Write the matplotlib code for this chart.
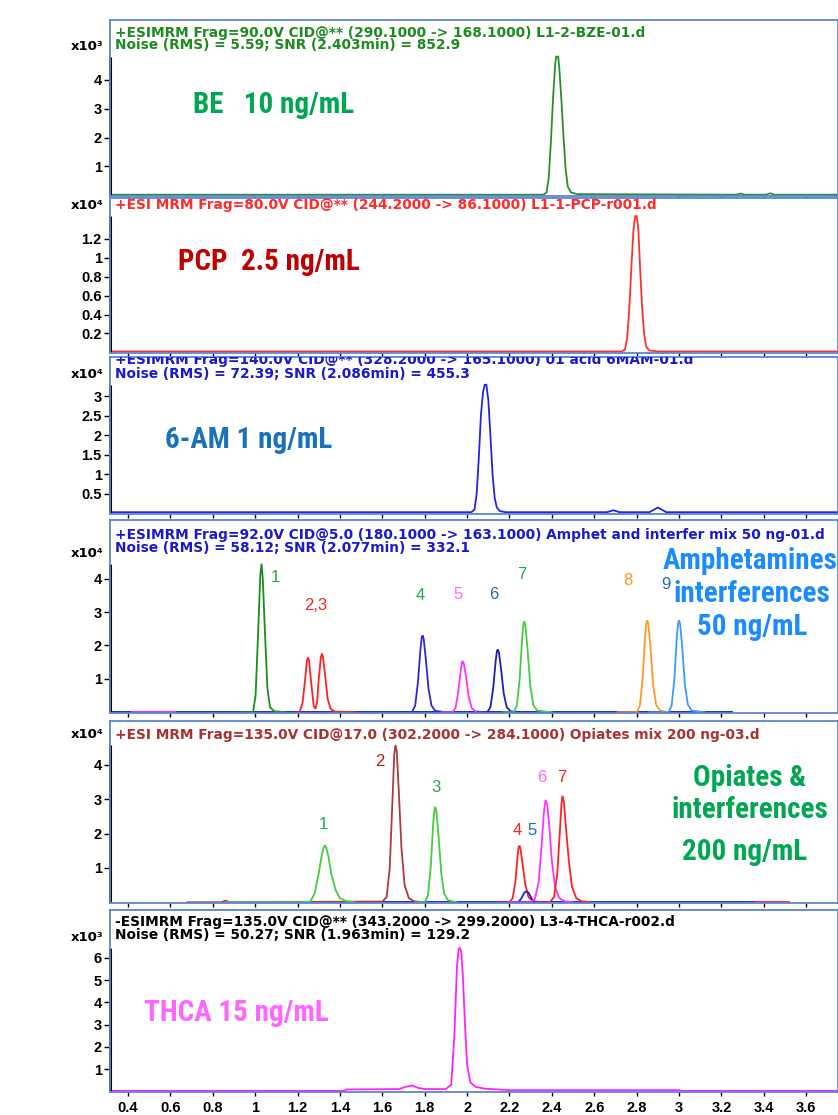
import matplotlib
matplotlib.use('Agg')
import matplotlib.pyplot as plt
import matplotlib.transforms as mtrans
from matplotlib import font_manager as fm

W, H = 838, 1115

# ---- data (time in min, intensity in x10^n units) ----
be_t = [0.315, 2.36, 2.375, 2.385, 2.395, 2.405, 2.415, 2.42, 2.43, 2.435, 2.445, 2.455,
        2.465, 2.475, 2.49, 2.52, 3.27, 3.29, 3.31, 3.41, 3.43, 3.45, 3.75]
be_y = [0.02, 0.02, 0.1, 0.6, 1.8, 3.3, 4.5, 4.8, 4.8, 4.4, 3.3, 2.0,
        0.9, 0.3, 0.1, 0.04, 0.02, 0.06, 0.02, 0.02, 0.07, 0.02, 0.02]

pcp_t = [0.315, 2.73, 2.745, 2.755, 2.765, 2.775, 2.785, 2.793, 2.80, 2.808, 2.815,
         2.825, 2.835, 2.845, 2.86, 2.9, 3.75]
pcp_y = [0.01, 0.01, 0.03, 0.15, 0.45, 0.9, 1.3, 1.44, 1.44, 1.3, 0.95,
         0.5, 0.2, 0.06, 0.02, 0.01, 0.01]

am_t = [0.315, 2.02, 2.035, 2.045, 2.055, 2.065, 2.075, 2.083, 2.091, 2.10, 2.11, 2.12,
        2.13, 2.14, 2.155, 2.18, 2.66, 2.69, 2.72, 2.86, 2.90, 2.94, 3.75]
am_y = [0.03, 0.03, 0.1, 0.5, 1.4, 2.5, 3.1, 3.29, 3.29, 2.9, 2.0, 1.0,
        0.4, 0.15, 0.06, 0.03, 0.03, 0.08, 0.03, 0.03, 0.15, 0.03, 0.03]

# amphetamines mix
amp_base_t = [0.315, 3.25]
amp_base_y = [0, 0]
amp_mag0_t = [0.42, 0.62]
amp_mag0_y = [0, 0]
amp1_t = [0.93, 0.99, 1.002, 1.014, 1.024, 1.03, 1.036, 1.046, 1.058, 1.07, 1.09, 1.14]
amp1_y = [0, 0, 0.5, 2.4, 4.1, 4.45, 4.0, 2.4, 0.7, 0.15, 0.03, 0]
amp23_t = [1.19, 1.21, 1.224, 1.236, 1.244, 1.249, 1.254, 1.264, 1.276, 1.284, 1.292, 1.30,
           1.31, 1.315, 1.32, 1.33, 1.342, 1.356, 1.375, 1.47]
amp23_y = [0, 0, 0.3, 1.0, 1.55, 1.64, 1.55, 0.9, 0.2, 0.1, 0.3, 1.0,
           1.65, 1.76, 1.65, 1.1, 0.4, 0.1, 0.02, 0]
amp4_t = [1.7, 1.74, 1.755, 1.768, 1.78, 1.786, 1.79, 1.795, 1.805, 1.818, 1.832, 1.85, 1.9]
amp4_y = [0, 0, 0.2, 0.9, 1.9, 2.25, 2.3, 2.2, 1.6, 0.7, 0.2, 0.04, 0]
amp5_t = [1.88, 1.93, 1.945, 1.958, 1.97, 1.976, 1.98, 1.985, 1.995, 2.008, 2.022, 2.04, 2.08]
amp5_y = [0, 0, 0.12, 0.6, 1.25, 1.5, 1.52, 1.45, 1.05, 0.45, 0.12, 0.03, 0]
amp6_t = [2.05, 2.095, 2.11, 2.123, 2.135, 2.141, 2.145, 2.15, 2.16, 2.173, 2.187, 2.205, 2.25]
amp6_y = [0, 0, 0.15, 0.72, 1.55, 1.84, 1.88, 1.8, 1.3, 0.55, 0.15, 0.03, 0]
amp7_t = [2.17, 2.22, 2.235, 2.248, 2.26, 2.266, 2.27, 2.275, 2.285, 2.298, 2.312, 2.33, 2.4]
amp7_y = [0, 0, 0.2, 1.0, 2.25, 2.65, 2.72, 2.6, 1.9, 0.8, 0.22, 0.05, 0]
amp8_t = [2.71, 2.80, 2.815, 2.828, 2.84, 2.846, 2.85, 2.855, 2.865, 2.878, 2.892, 2.91, 2.95]
amp8_y = [0, 0, 0.2, 1.0, 2.3, 2.68, 2.75, 2.65, 1.95, 0.8, 0.22, 0.05, 0]
amp9_t = [2.86, 2.95, 2.965, 2.978, 2.99, 2.996, 3.0, 3.005, 3.015, 3.028, 3.042, 3.06, 3.12]
amp9_y = [0, 0, 0.2, 1.0, 2.3, 2.68, 2.75, 2.65, 1.95, 0.8, 0.22, 0.05, 0]
amp_labels = ['1', '2,3', '4', '5', '6', '7', '8', '9']
amp_label_t = [1.093, 1.287, 1.777, 1.957, 2.126, 2.258, 2.758, 2.94]
amp_label_y = [4.03, 3.19, 3.49, 3.52, 3.52, 4.12, 3.94, 3.82]

# opiates mix
op_base_t = [1.37, 3.36]
op_base_y = [0, 0]
op_red0_t = [3.36, 3.52]
op_red0_y = [0, 0]
op2_t = [0.68, 0.84, 0.86, 0.88, 1.55, 1.6, 1.62, 1.635, 1.648, 1.656, 1.662, 1.668,
         1.678, 1.69, 1.705, 1.725, 1.75, 1.80]
op2_y = [0, 0, 0.05, 0, 0.02, 0.02, 0.15, 1.0, 3.0, 4.3, 4.58, 4.4,
         3.2, 1.6, 0.5, 0.12, 0.03, 0]
op1_t = [0.87, 1.2, 1.26, 1.28, 1.30, 1.315, 1.325, 1.33, 1.335, 1.345, 1.36, 1.38,
         1.40, 1.43, 1.47]
op1_y = [0, 0, 0.02, 0.25, 0.85, 1.4, 1.62, 1.65, 1.6, 1.35, 0.8, 0.35, 0.12, 0.03, 0]
op3_t = [1.76, 1.80, 1.815, 1.828, 1.84, 1.846, 1.85, 1.855, 1.865, 1.878, 1.892, 1.91, 1.95]
op3_y = [0, 0, 0.2, 1.0, 2.3, 2.7, 2.78, 2.65, 1.95, 0.85, 0.25, 0.06, 0]
op4_t = [2.15, 2.20, 2.215, 2.228, 2.238, 2.243, 2.247, 2.252, 2.262, 2.275, 2.29, 2.31, 2.35]
op4_y = [0, 0, 0.12, 0.6, 1.35, 1.6, 1.65, 1.55, 1.1, 0.5, 0.15, 0.03, 0]
op5_t = [2.24, 2.255, 2.27, 2.28, 2.29, 2.305, 2.32]
op5_y = [0, 0.1, 0.28, 0.32, 0.28, 0.1, 0]
op6_t = [2.2, 2.3, 2.32, 2.338, 2.352, 2.362, 2.37, 2.378, 2.388, 2.40, 2.415, 2.435, 2.46, 2.5]
op6_y = [0, 0, 0.1, 0.6, 1.7, 2.6, 2.98, 2.85, 2.2, 1.2, 0.45, 0.12, 0.03, 0]
op7_t = [2.35, 2.39, 2.41, 2.425, 2.438, 2.445, 2.45, 2.456, 2.466, 2.48, 2.495, 2.515, 2.54, 2.58]
op7_y = [0, 0, 0.15, 0.8, 2.1, 2.85, 3.1, 2.95, 2.2, 1.2, 0.45, 0.12, 0.03, 0]
op_labels = ['1', '2', '3', '4', '5', '6', '7']
op_label_t = [1.32, 1.589, 1.853, 2.235, 2.306, 2.353, 2.447]
op_label_y = [2.26, 4.09, 3.33, 2.09, 2.09, 3.62, 3.62]

thca_t = [0.315, 1.42, 1.43, 1.68, 1.71, 1.74, 1.77, 1.80, 1.90, 1.925, 1.94, 1.952, 1.96,
          1.966, 1.972, 1.98, 1.99, 2.0, 2.015, 2.04, 2.08, 2.2, 3.0, 3.01, 3.75]
thca_y = [0.02, 0.02, 0.08, 0.1, 0.2, 0.26, 0.15, 0.1, 0.1, 0.3, 2.5, 5.6, 6.4,
          6.45, 6.3, 5.2, 3.0, 1.2, 0.4, 0.2, 0.12, 0.05, 0.05, 0.02, 0.02]

x_ticks = [0.4, 0.6, 0.8, 1, 1.2, 1.4, 1.6, 1.8, 2, 2.2, 2.4, 2.6, 2.8, 3, 3.2, 3.4, 3.6]
x_labels = ['0.4', '0.6', '0.8', '1', '1.2', '1.4', '1.6', '1.8', '2', '2.2', '2.4',
            '2.6', '2.8', '3', '3.2', '3.4', '3.6']


def pick(names):
    for n in names:
        try:
            fm.findfont(n, fallback_to_default=False)
            return n
        except Exception:
            pass
    return 'DejaVu Sans'


big_font = pick(['Liberation Sans Narrow', 'Roboto Condensed', 'Roboto'])
txt_font = pick(['Liberation Sans', 'Arial'])
frame_col = '#5a86d2'

fig = plt.figure(figsize=(W / 100, H / 100), dpi=100)


def fx(x):
    return x / W


def fy(y):
    return 1 - y / H


def panel(top, bot, ytop, yticks, mult, traces, headers, hcol, show_x=False):
    ax = fig.add_axes([110 / W, 1 - bot / H, (W - 110) / W, (bot - top) / H])
    for t, y, c in traces:
        ax.plot(t, y, color=c, lw=1.3, solid_joinstyle='miter')
    ax.set_xlim(0.315, 3.75)
    ax.set_ylim(-0.004 * ytop, ytop)
    for s in ax.spines.values():
        s.set_color(frame_col)
        s.set_linewidth(1.3)
    ax.set_xticks(x_ticks)
    ax.set_yticks(yticks)
    ax.set_yticklabels([('%g' % v) for v in yticks], fontweight='bold',
                       fontfamily=txt_font, fontsize=10.5)
    ax.tick_params(axis='y', direction='out', length=4, width=1, color='black', pad=2)
    ax.tick_params(axis='x', direction='out', length=3, width=1, color='black',
                   labelbottom=show_x)
    if show_x:
        ax.set_xticklabels(x_labels, fontweight='bold', fontfamily=txt_font, fontsize=10.5)
    # black y axis line up to the tallest peak
    ymax = max(max(y) for _, y, _ in traces)
    tr = mtrans.blended_transform_factory(ax.transAxes, ax.transData)
    ax.plot([0, 0], [0, ymax], transform=tr, color='black', lw=2.2, clip_on=False,
            solid_capstyle='butt')
    ax.annotate(mult, xy=(0, ymax), xycoords=tr, xytext=(-5, 3), textcoords='offset points',
                ha='right', va='bottom', fontsize=9.5, fontweight='bold', family='DejaVu Sans')
    for h in headers:
        ax.text(5 / (W - 110), 1 - (h[0] - top) / (bot - top), h[1], transform=ax.transAxes,
                color=hcol, fontsize=9.9, fontweight='bold', family='DejaVu Sans',
                va='center', ha='left', clip_on=True)
    return ax


ax1 = panel(20, 196, 6.07, [1, 2, 3, 4], 'x10³', [(be_t, be_y, '#2a8f2a')],
            [(33, '+ESIMRM Frag=90.0V CID@** (290.1000 -> 168.1000) L1-2-BZE-01.d'),
             (45, 'Noise (RMS) = 5.59; SNR (2.403min) = 852.9')], '#1f8a1f')
ax2 = panel(198, 353, 1.632, [0.2, 0.4, 0.6, 0.8, 1, 1.2], 'x10⁴', [(pcp_t, pcp_y, '#ff3030')],
            [(205, '+ESI MRM Frag=80.0V CID@** (244.2000 -> 86.1000) L1-1-PCP-r001.d')],
            '#ff2a2a')
ax3 = panel(357, 514, 4.0, [0.5, 1, 1.5, 2, 2.5, 3], 'x10⁴', [(am_t, am_y, '#2525e0')],
            [(360, '+ESIMRM Frag=140.0V CID@** (328.2000 -> 165.1000) 01 acid 6MAM-01.d'),
             (374, 'Noise (RMS) = 72.39; SNR (2.086min) = 455.3')], '#1a1acc')
ax4 = panel(520, 713, 5.76, [1, 2, 3, 4], 'x10⁴',
            [(amp_base_t, amp_base_y, '#1a1ab0'), (amp_mag0_t, amp_mag0_y, '#ff33ff'),
             (amp1_t, amp1_y, '#1e8c1e'), (amp23_t, amp23_y, '#ff2020'),
             (amp4_t, amp4_y, '#2b2bcc'), (amp5_t, amp5_y, '#ff33ff'),
             (amp6_t, amp6_y, '#2020b0'), (amp7_t, amp7_y, '#44cc44'),
             (amp8_t, amp8_y, '#ff9a1f'), (amp9_t, amp9_y, '#3c9cff')],
            [(535, '+ESIMRM Frag=92.0V CID@5.0 (180.1000 -> 163.1000) Amphet and interfer mix 50 ng-01.d'),
             (548, 'Noise (RMS) = 58.12; SNR (2.077min) = 332.1')], '#1a1acc')
ax5 = panel(721, 903, 5.28, [1, 2, 3, 4], 'x10⁴',
            [(op_base_t, op_base_y, '#2020d0'), (op_red0_t, op_red0_y, '#ff2020'),
             (op2_t, op2_y, '#b03a3a'), (op1_t, op1_y, '#44cc44'), (op3_t, op3_y, '#44cc44'),
             (op4_t, op4_y, '#ff2020'), (op5_t, op5_y, '#2020d0'),
             (op6_t, op6_y, '#ff33ff'), (op7_t, op7_y, '#ff2020')],
            [(735, '+ESI MRM Frag=135.0V CID@17.0 (302.2000 -> 284.1000) Opiates mix 200 ng-03.d')],
            '#a83232')
ax6 = panel(910, 1092, 8.16, [1, 2, 3, 4, 5, 6], 'x10³', [(thca_t, thca_y, '#ff22ff')],
            [(922, '-ESIMRM Frag=135.0V CID@** (343.2000 -> 299.2000) L3-4-THCA-r002.d'),
             (935, 'Noise (RMS) = 50.27; SNR (1.963min) = 129.2')], 'black', show_x=True)

amp_cols = ['#22aa44', '#ff2020', '#22aa44', '#ff66ff', '#1f6fb4', '#22aa44', '#ff9922', '#1f6fb4']
for lab, t, y, c in zip(amp_labels, amp_label_t, amp_label_y, amp_cols):
    ax4.text(t, y, lab, color=c, fontsize=12, family=txt_font, ha='center', va='center')
op_cols = ['#22aa44', '#c01818', '#22aa44', '#ff2020', '#1f6fb4', '#ff66ff', '#ff2020']
for lab, t, y, c in zip(op_labels, op_label_t, op_label_y, op_cols):
    ax5.text(t, y, lab, color=c, fontsize=12, family=txt_font, ha='center', va='center')

big = dict(fontsize=21, fontweight='bold', family=big_font, va='center')
fig.text(fx(193), fy(105), 'BE   10 ng/mL', color='#00a651', ha='left', **big)
fig.text(fx(178), fy(262), 'PCP  2.5 ng/mL', color='#c00000', ha='left', **big)
fig.text(fx(165), fy(440), '6-AM 1 ng/mL', color='#1a73b8', ha='left', **big)
fig.text(fx(750), fy(561), 'Amphetamines', color='#1a8cff', ha='center', **big)
fig.text(fx(752), fy(594), 'interferences', color='#1a8cff', ha='center', **big)
fig.text(fx(752), fy(627), '50 ng/mL', color='#1a8cff', ha='center', **big)
fig.text(fx(750), fy(778), 'Opiates &', color='#00a651', ha='center', **big)
fig.text(fx(750), fy(810), 'interferences', color='#00a651', ha='center', **big)
fig.text(fx(745), fy(852), '200 ng/mL', color='#00a651', ha='center', **big)
fig.text(fx(144), fy(1013), 'THCA 15 ng/mL', color='#ff66ff', ha='left', **big)

fig.savefig('out.png', dpi=100)
